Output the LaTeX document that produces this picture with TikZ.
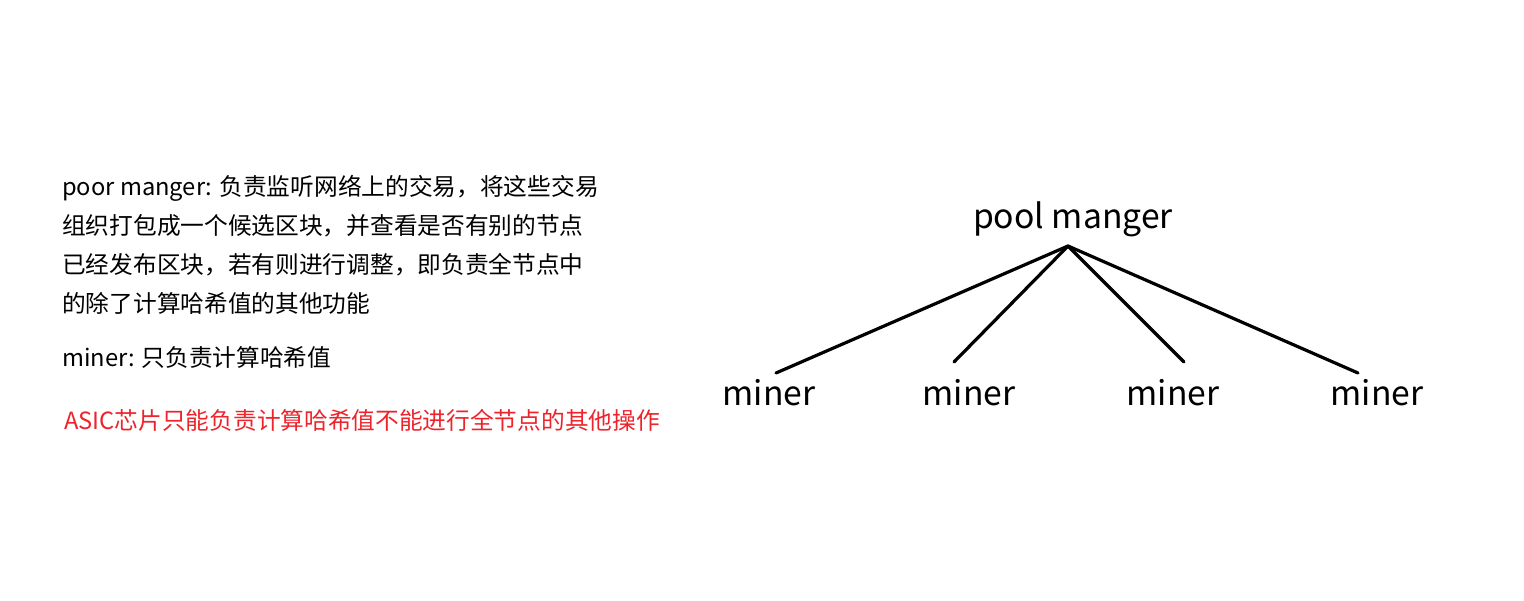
\documentclass[tikz,border=0pt]{standalone}
\usepackage{fontspec}
\setmainfont{Noto Sans CJK SC}
\definecolor{warnred}{RGB}{238,36,44}
\begin{document}
\begin{tikzpicture}[x=1pt,y=-1pt,
  para/.style={anchor=base west,inner sep=0pt,font=\fontsize{23.7}{30}\selectfont},
  tree/.style={anchor=base,inner sep=0pt,font=\fontsize{33.7}{40}\selectfont},
  link/.style={line width=3.2pt,line cap=round}]
\fill[white] (0,0) rectangle (1524,600);
\useasboundingbox (0,0) rectangle (1524,600);
\node[para] (l1) at (62,195) {poor manger: 负责监听网络上的交易，将这些交易};
\node[para] (l2) at (62,234) {组织打包成一个候选区块，并查看是否有别的节点};
\node[para] (l3) at (62,273) {已经发布区块，若有则进行调整，即负责全节点中};
\node[para] (l4) at (62,312) {的除了计算哈希值的其他功能};
\node[para] (m) at (62,366) {miner: 只负责计算哈希值};
\node[para,text=warnred] (asic) at (64,429) {ASIC芯片只能负责计算哈希值不能进行全节点的其他操作};
\node[tree] (pm) at (1073,228) {pool manger};
\node[tree] (m1) at (769,405) {miner};
\node[tree] (m2) at (969,405) {miner};
\node[tree] (m3) at (1173,405) {miner};
\node[tree] (m4) at (1377,405) {miner};
\coordinate (top) at (1068,246);
\coordinate (e1) at (776,373);
\coordinate (e2) at (954,362);
\coordinate (e3) at (1184,362);
\coordinate (e4) at (1358,373);
\draw[link] (top) -- (e1);
\draw[link] (top) -- (e2);
\draw[link] (top) -- (e3);
\draw[link] (top) -- (e4);
\end{tikzpicture}
\end{document}
